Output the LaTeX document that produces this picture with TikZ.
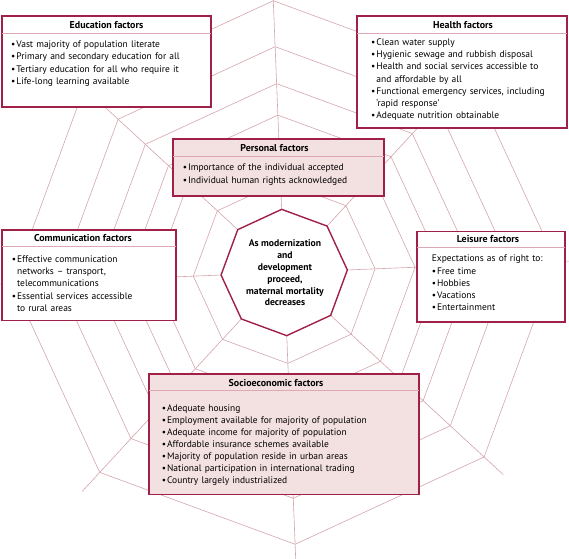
\documentclass[tikz,border=0pt]{standalone}
\usepackage{fontspec}
\setmainfont{PT Sans}
\usetikzlibrary{calc}
\definecolor{crim}{RGB}{160,32,72}
\definecolor{webc}{RGB}{212,164,172}
\definecolor{pinkf}{RGB}{243,224,225}
\definecolor{sepc}{RGB}{222,168,180}
\setlength\parskip{0pt}
\newlength\bulw \setlength\bulw{5.2bp}
\newcommand\bfirst{\noindent\makebox[\bulw][l]{•}}
\newcommand\bitm{\par\noindent\makebox[\bulw][l]{•}}
\newcommand\bcont{\par\noindent\hspace*{\bulw}}
\tikzset{
  web/.style={draw=webc, line width=0.6bp},
  fbox/.style={draw=crim, line width=1.4bp, fill=white, rectangle, inner sep=0, outer sep=0, anchor=north west},
  pbox/.style={fbox, fill=pinkf},
  ttl/.style={font=\bfseries\fontsize{10}{12}\selectfont, inner sep=0, anchor=base},
  lst/.style={font=\fontsize{9.5}{12.3}\selectfont, inner sep=0, anchor=base west, align=left, text width=250bp},
  sepl/.style={draw=sepc, line width=0.6bp},
}
\begin{document}
\begin{tikzpicture}[x=1bp,y=-1bp]
\useasboundingbox (0,0) rectangle (569,559);
\clip (0,0) rectangle (569,559);
\coordinate (C) at (284.2,272.5);
% web rings
\foreach \r in {91,131,157.5,189,226,272}{
  \draw[web] ($(C)+(-2.3:\r)$) \foreach \k in {1,...,7}{ -- ($(C)+({-2.3-45*\k}:\r)$)} -- cycle;
}
% spokes
\foreach \k in {0,...,7}{
  \draw[web] ($(C)+({-2.3-45*\k}:63.2)$) -- ($(C)+({-2.3-45*\k}:298)$);
}
% central octagon
\draw[crim, line width=1.4bp, line join=miter] ($(C)+(-2.3:63.2)$) \foreach \k in {1,...,7}{ -- ($(C)+({-2.3-45*\k}:63.2)$)} -- cycle;
\node[font=\bfseries\fontsize{9.7}{12}\selectfont, align=center, inner sep=0] (ctext) at (285,272.7)
  {As modernization\\and\\development\\proceed,\\maternal mortality\\decreases};

% Education
\node[fbox, minimum width=209bp, minimum height=91bp] (edu) at (2,16) {};
\node[ttl] (edut) at (106.5,28.5) {Education factors};
\draw[sepl] (edu.west |- 0,33.3) -- (edu.east |- 0,33.3);
\node[lst] (edul) at (11,47.6) {\bfirst Vast majority of population literate
  \bitm Primary and secondary education for all
  \bitm Tertiary education for all who require it
  \bitm Life-long learning available};

% Health
\node[fbox, minimum width=210bp, minimum height=112bp] (hea) at (357,16) {};
\node[ttl] (heat) at (463,28.3) {Health factors};
\draw[sepl] (hea.west |- 0,33.5) -- (hea.east |- 0,33.5);
\node[lst] (heal) at (371,45.3) {\bfirst Clean water supply
  \bitm Hygienic sewage and rubbish disposal
  \bitm Health and social services accessible to
  \bcont and affordable by all
  \bitm Functional emergency services, including
  \bcont ‘rapid response’
  \bitm Adequate nutrition obtainable};

% Personal
\node[pbox, minimum width=211bp, minimum height=57bp] (per) at (173,139) {};
\node[ttl] (pert) at (274.5,151.8) {Personal factors};
\draw[sepl] (per.west |- 0,156) -- (per.east |- 0,156);
\node[lst] (perl) at (182.7,171) {\bfirst Importance of the individual accepted
  \bitm Individual human rights acknowledged};

% Communication
\node[fbox, minimum width=174bp, minimum height=90.5bp] (com) at (2,230) {};
\node[ttl] (comt) at (83,241.8) {Communication factors};
\draw[sepl] (com.west |- 0,246.3) -- (com.east |- 0,246.3);
\node[lst] (coml) at (11.7,262.3) {\bfirst Effective communication
  \bcont networks – transport,
  \bcont telecommunications
  \bitm Essential services accessible
  \bcont to rural areas};

% Leisure
\node[fbox, minimum width=148bp, minimum height=90.5bp] (lei) at (417,231.5) {};
\node[ttl] (leit) at (488,242.8) {Leisure factors};
\draw[sepl] (lei.west |- 0,247.5) -- (lei.east |- 0,247.5);
\node[lst] (leil) at (431.7,261.8) {\noindent Expectations as of right to:
  \bitm Free time
  \bitm Hobbies
  \bitm Vacations
  \bitm Entertainment};

% Socioeconomic
\node[pbox, minimum width=270bp, minimum height=120.3bp] (soc) at (149,374) {};
\node[ttl] (soct) at (276,386.8) {Socioeconomic factors};
\draw[sepl] (soc.west |- 0,390.7) -- (soc.east |- 0,390.7);
\node[lst, font=\fontsize{9.5}{12.2}\selectfont] (socl) at (161.7,411) {\bfirst Adequate housing
  \bitm Employment available for majority of population
  \bitm Adequate income for majority of population
  \bitm Affordable insurance schemes available
  \bitm Majority of population reside in urban areas
  \bitm National participation in international trading
  \bitm Country largely industrialized};
\end{tikzpicture}
\end{document}
